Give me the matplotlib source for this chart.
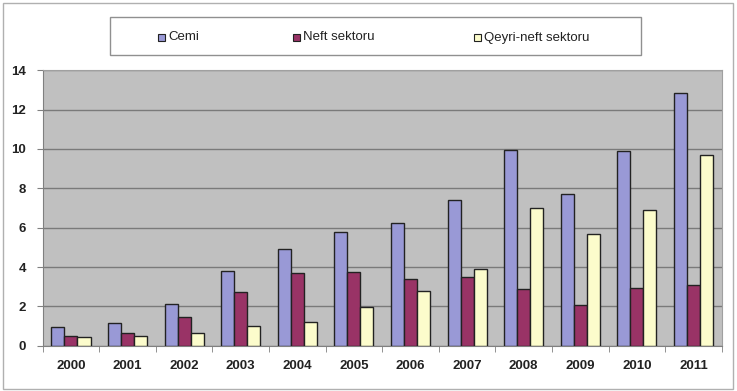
import matplotlib
matplotlib.use("Agg")
import matplotlib.pyplot as plt
from matplotlib.patches import Rectangle
import numpy as np

plt.rcParams['font.family'] = ['Liberation Sans', 'DejaVu Sans']

years = ["2000", "2001", "2002", "2003", "2004", "2005",
         "2006", "2007", "2008", "2009", "2010", "2011"]
cemi = [0.95, 1.15, 2.12, 3.8, 4.93, 5.76, 6.22, 7.42, 9.97, 7.71, 9.92, 12.83]
neft = [0.51, 0.66, 1.46, 2.73, 3.68, 3.75, 3.41, 3.51, 2.9, 2.05, 2.95, 3.07]
qeyri_neft = [0.46, 0.49, 0.66, 0.99, 1.22, 1.98, 2.8, 3.92, 6.98, 5.66, 6.92, 9.71]
series_names = ["Cemi", "Neft sektoru", "Qeyri-neft sektoru"]
y_ticks = [0, 2, 4, 6, 8, 10, 12, 14]

colors = ["#9999d6", "#993366", "#fcfccc"]

fig = plt.figure(figsize=(7.37, 3.91), dpi=100)
fig.patch.set_facecolor("white")

# outer frame of the chart
fig.patches.append(Rectangle((3 / 737, 2 / 391), 730 / 737, 386 / 391,
                             transform=fig.transFigure, fill=False,
                             edgecolor="#b0b0b0", linewidth=1.0))

ax = fig.add_axes([42.7 / 737, 1 - 345.7 / 391, 679 / 737, 275.4 / 391])
ax.set_facecolor("#c0c0c0")

x = np.arange(len(years))
w = 0.23
bars = []
for i, (vals, c) in enumerate(zip([cemi, neft, qeyri_neft], colors)):
    b = ax.bar(x + (i - 1) * w, vals, width=w, color=c, edgecolor="#222222",
               linewidth=1.0, zorder=3, label=series_names[i])
    bars.append(b)

ax.set_xlim(-0.5, len(years) - 0.5)
ax.set_ylim(0, 14)
ax.set_yticks(y_ticks)
ax.set_yticklabels([str(v) for v in y_ticks])
ax.yaxis.grid(True, color="#7a7a7a", linewidth=1.0, zorder=1)
ax.set_axisbelow(True)

ax.set_xticks(x)
ax.set_xticklabels(years)
ax.set_xticks(np.arange(-0.5, len(years)), minor=True)
ax.tick_params(axis="x", which="major", length=0, pad=10, labelsize=9.5)
ax.tick_params(axis="x", which="minor", length=4, color="#808080")
ax.tick_params(axis="y", length=4, color="#808080", pad=8, labelsize=9.5)
for lbl in ax.get_xticklabels() + ax.get_yticklabels():
    lbl.set_color("#222222")
    lbl.set_fontweight("bold")

for side in ["top", "right"]:
    ax.spines[side].set_color("#a0a0a0")
for side in ["left", "bottom"]:
    ax.spines[side].set_color("#808080")

# legend box
fig.patches.append(Rectangle((110 / 737, 1 - 55 / 391), 531 / 737, 38 / 391,
                             transform=fig.transFigure, facecolor="white",
                             edgecolor="#909090", linewidth=1.0))
leg_x = [158, 293, 474]
for name, c, lx in zip(series_names, colors, leg_x):
    fig.patches.append(Rectangle((lx / 737, 1 - 41 / 391), 7 / 737, 7 / 391,
                                 transform=fig.transFigure, facecolor=c,
                                 edgecolor="#222222", linewidth=0.8))
    fig.text((lx + 10) / 737, 1 - 37.5 / 391, name, fontsize=9.5,
             va="center", ha="left", color="#222222")

fig.savefig("out.png", dpi=100)
